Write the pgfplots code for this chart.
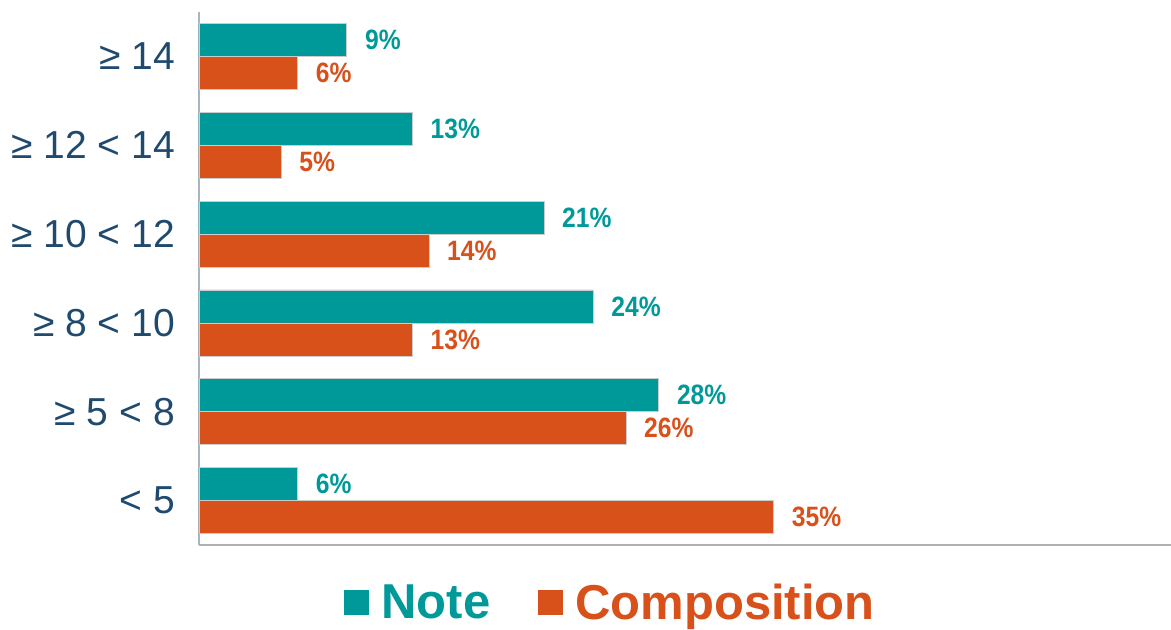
\documentclass[border=0pt]{standalone}
\usepackage{fontspec}
\setmainfont{Liberation Sans}
\newfontfamily\lblfont[FakeStretch=0.88]{Liberation Sans}
\usepackage{pgfplots}
\pgfplotsset{compat=1.18}
\definecolor{teal1}{HTML}{009999}
\definecolor{orange1}{HTML}{D8501A}
\definecolor{tickblue}{HTML}{1F4A6E}
\definecolor{axgray}{HTML}{B0B0B0}
\definecolor{axgray2}{HTML}{A9B6BF}
\begin{document}
\begin{tikzpicture}
\begin{axis}[
  name=ax,
  scale only axis,
  width=972pt, height=533pt,
  xbar,
  bar width=33pt,
  xmin=0, xmax=59.2,
  ymin=-0.5, ymax=5.5,
  ytick={0,1,2,3,4,5},
  yticklabels={{< 5},{≥ 5 < 8},{≥ 8 < 10},{≥ 10 < 12},{≥ 12 < 14},{≥ 14}},
  xtick=\empty,
  axis x line*=bottom,
  axis y line*=left,
  x axis line style={draw=axgray, line width=2pt, -},
  y axis line style={draw=axgray2, line width=2pt, -},
  major tick length=0pt,
  yticklabel style={font=\fontsize{39}{44}\selectfont, text=tickblue, inner sep=0pt, xshift=-24pt},
  point meta=x,
  nodes near coords={\pgfmathprintnumber[assume math mode=true]{\pgfplotspointmeta}\%},
  nodes near coords align={horizontal},
  every node near coord/.append style={font=\lblfont\bfseries\fontsize{28}{30}\selectfont, inner sep=0pt, anchor=west, xshift=18pt},
  legend style={at={(0.4235,-0.1085)}, anchor=center, draw=none, fill=none,
    legend columns=2, font=\bfseries\fontsize{49}{52}\selectfont,
    /tikz/every even column/.append style={column sep=46pt},
    /tikz/every odd column/.append style={column sep=10pt}},
  legend image code/.code={\fill[#1, draw=none] (0pt,-12.5pt) rectangle (25pt,12.5pt);},
  legend cell align=left,
]
\addplot[fill=teal1, draw=gray!40, line width=0.6pt, bar shift=16.5pt, every node near coord/.append style={text=teal1}]
  coordinates {(6,0) (28,1) (24,2) (21,3) (13,4) (9,5)};
\addlegendentry{\textcolor{teal1}{Note}}
\addplot[fill=orange1, draw=gray!40, line width=0.6pt, bar shift=-16.5pt, every node near coord/.append style={text=orange1}]
  coordinates {(35,0) (26,1) (13,2) (14,3) (5,4) (6,5)};
\addlegendentry{\textcolor{orange1}{Composition}}
\end{axis}
\pgfresetboundingbox
\path[use as bounding box] ([xshift=-199pt,yshift=-85pt]ax.south west) rectangle ([yshift=12pt]ax.north east);
\end{tikzpicture}
\end{document}
